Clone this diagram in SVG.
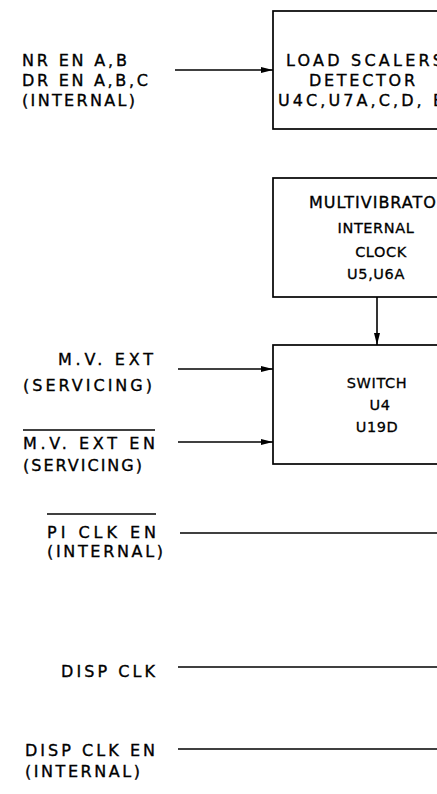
<svg xmlns="http://www.w3.org/2000/svg" width="437" height="794" viewBox="0 0 437 794">
<style>
text{font-family:"DejaVu Sans","Liberation Sans",sans-serif;font-size:16px;fill:#000;stroke:#000;stroke-width:0.35}
text.in{font-size:14.5px;text-anchor:middle;stroke-width:0.3;letter-spacing:0.6px}
.box{fill:#fff;stroke:#000;stroke-width:1.7}
.wire{stroke:#000;stroke-width:1.6;fill:none}
.bar{stroke:#000;stroke-width:1.4}
</style>
<defs>
<marker id="ah" markerUnits="userSpaceOnUse" markerWidth="13" markerHeight="8" refX="12" refY="4" orient="auto">
<path d="M0,1 L12,4 L0,7 z" fill="#000"/>
</marker>
</defs>
<rect width="437" height="794" fill="#fff"/>
<g id="connectors">
<line class="wire" x1="175" y1="70" x2="273" y2="70" marker-end="url(#ah)"/>
<line class="wire" x1="377" y1="297" x2="377" y2="345" marker-end="url(#ah)"/>
<line class="wire" x1="178" y1="369" x2="273" y2="369" marker-end="url(#ah)"/>
<line class="wire" x1="178" y1="442" x2="273" y2="442" marker-end="url(#ah)"/>
<line class="wire" x1="180" y1="533" x2="437" y2="533"/>
<line class="wire" x1="178" y1="667" x2="437" y2="667"/>
<line class="wire" x1="178" y1="749" x2="437" y2="749"/>
</g>
<g id="node-load-scalers">
<rect class="box" x="273" y="11" width="220" height="118"/>
<text x="286" y="66" textLength="157" lengthAdjust="spacing">LOAD SCALERS</text>
<text x="309" y="86" textLength="106" lengthAdjust="spacing">DETECTOR</text>
<text x="278" y="106" textLength="165" lengthAdjust="spacing">U4C,U7A,C,D, E</text>
</g>
<g id="node-multivibrator">
<rect class="box" x="273" y="178" width="220" height="119"/>
<text x="309" y="208" font-size="14.5" stroke-width="0.3" letter-spacing="1">MULTIVIBRATO</text>
<text class="in" x="376" y="233">INTERNAL</text>
<text class="in" x="381" y="257">CLOCK</text>
<text class="in" x="376" y="279">U5,U6A</text>
</g>
<g id="node-switch">
<rect class="box" x="273" y="345" width="220" height="119"/>
<text class="in" x="377" y="388">SWITCH</text>
<text class="in" x="380" y="410">U4</text>
<text class="in" x="377" y="432">U19D</text>
</g>
<g id="label-nr-dr-en">
<text x="22" y="66" textLength="105" lengthAdjust="spacing">NR EN A,B</text>
<text x="22" y="86" textLength="126" lengthAdjust="spacing">DR EN A,B,C</text>
<text x="22" y="106" textLength="113" lengthAdjust="spacing">(INTERNAL)</text>
</g>
<g id="label-mv-ext">
<text x="58" y="365" textLength="95" lengthAdjust="spacing">M.V. EXT</text>
<text x="23" y="391" textLength="129" lengthAdjust="spacing">(SERVICING)</text>
</g>
<g id="label-mv-ext-en">
<line class="bar" x1="23" y1="430" x2="155" y2="430"/>
<text x="23" y="449" textLength="132" lengthAdjust="spacing">M.V. EXT EN</text>
<text x="23" y="471" textLength="119" lengthAdjust="spacing">(SERVICING)</text>
</g>
<g id="label-pi-clk-en">
<line class="bar" x1="47" y1="514" x2="156" y2="514"/>
<text x="47" y="538" textLength="109" lengthAdjust="spacing">PI CLK EN</text>
<text x="47" y="557" textLength="116" lengthAdjust="spacing">(INTERNAL)</text>
</g>
<g id="label-disp-clk">
<text x="61" y="677" textLength="94" lengthAdjust="spacing">DISP CLK</text>
</g>
<g id="label-disp-clk-en">
<text x="25" y="756" textLength="130" lengthAdjust="spacing">DISP CLK EN</text>
<text x="25" y="777" textLength="115" lengthAdjust="spacing">(INTERNAL)</text>
</g>
</svg>
